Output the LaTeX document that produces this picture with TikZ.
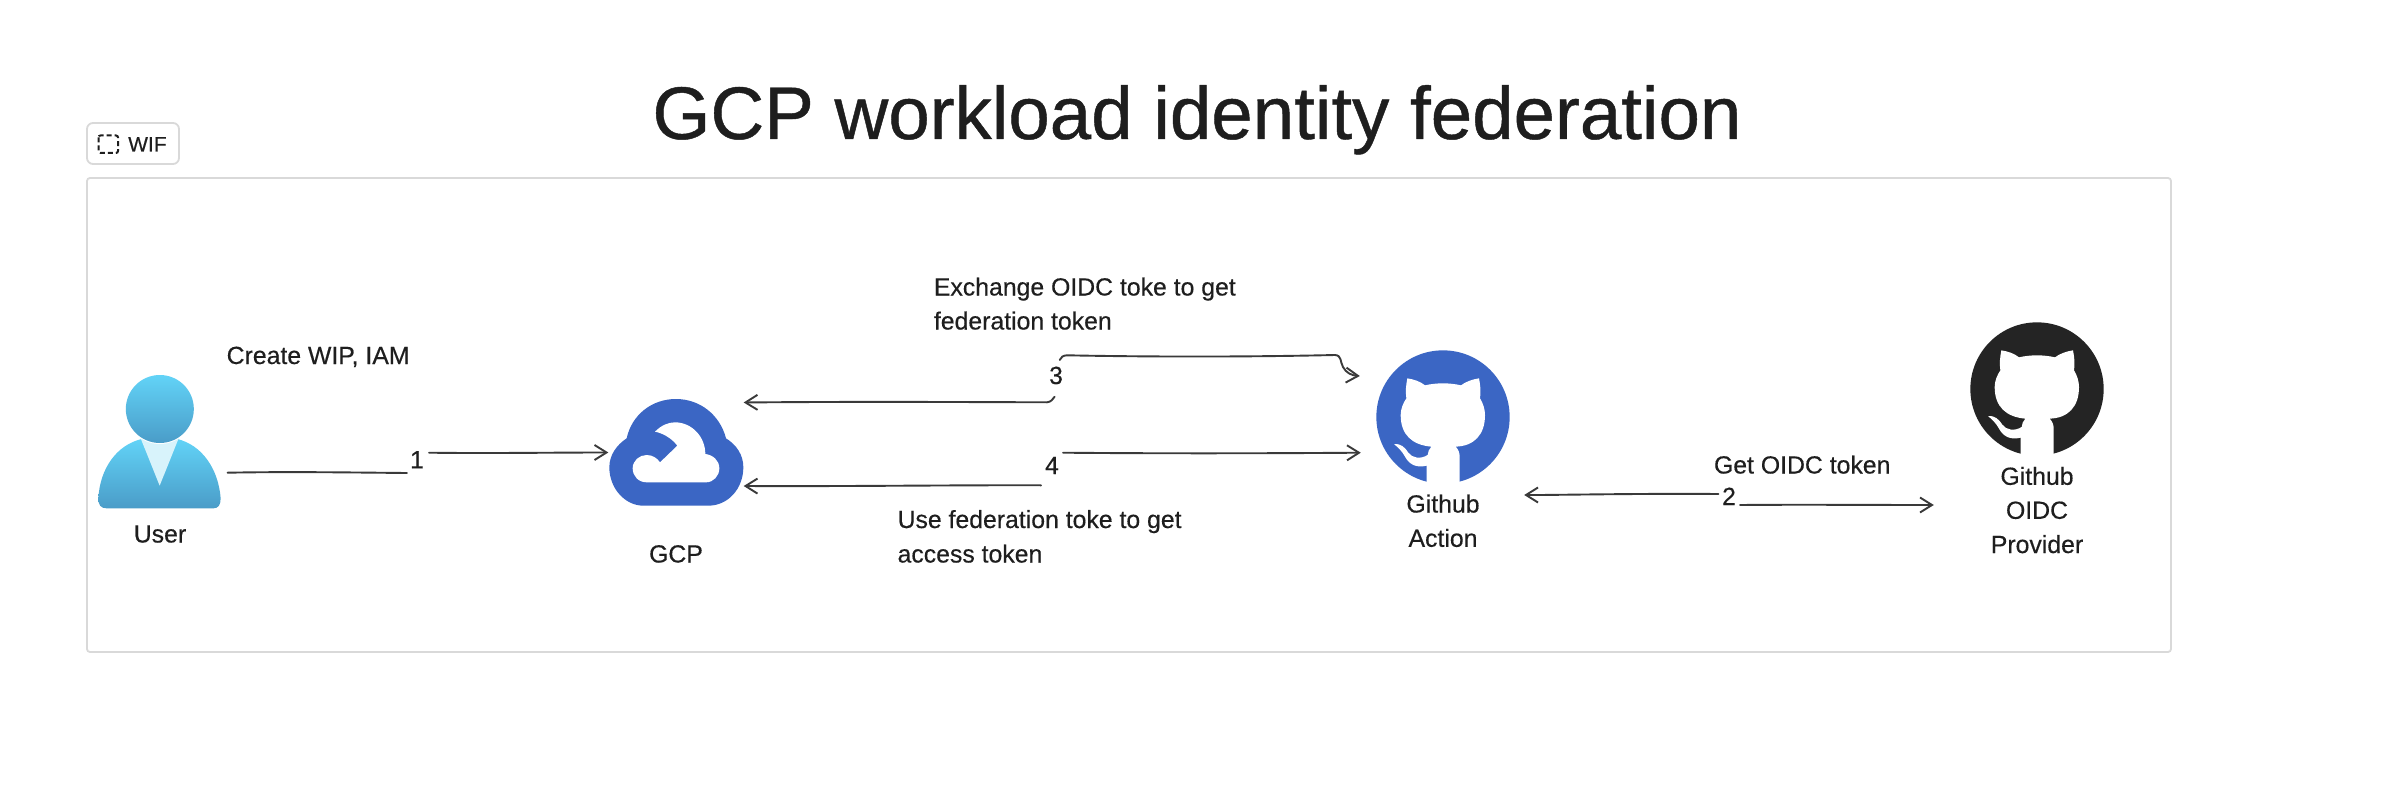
\documentclass[tikz,border=0pt]{standalone}
\usepackage{fontspec}
\setmainfont{Liberation Sans}
\newfontfamily\handfont[FakeBold=0.35]{Liberation Sans}
\newfontfamily\titlefont[FakeBold=0.6]{Liberation Sans}
\usetikzlibrary{arrows.meta}
\definecolor{gcpblue}{HTML}{3B66C4}
\definecolor{octoblack}{HTML}{242424}
\definecolor{ink}{HTML}{1E1E1E}
\definecolor{wire}{HTML}{3A3A3A}
\definecolor{framegray}{HTML}{D9D9D9}
\definecolor{usertop}{HTML}{62D3F7}
\definecolor{userbot}{HTML}{4A9CC8}
\definecolor{collar}{HTML}{D8F3FB}
\tikzset{
  x=1pt,y=-1pt,
  lbl/.style={inner sep=0pt,text=ink,font=\handfont\fontsize{24.8}{34}\selectfont},
  iconbox/.style={inner sep=0pt,draw=none},
  wireline/.style={draw=wire,line width=1.9pt,line cap=round},
  arrowed/.style={wireline,-{Straight Barb[length=12pt,width=15pt,line width=1.9pt]}},
  pics/octo/.style n args={1}{code={
    \begin{scope}[scale=1/3,shift={(-232,-231)}]
      \fill[#1] (232,231) circle [radius=200];
      \fill[white] (125,115) .. controls (145,118) and (165,125) .. (178,136)
        .. controls (212,128) and (252,128) .. (286,136)
        .. controls (300,125) and (320,118) .. (340,115)
        .. controls (344,135) and (346,155) .. (343,175)
        .. controls (352,190) and (358,207) .. (358,225)
        .. controls (358,285) and (325,318) .. (270,320)
        .. controls (278,328) and (282,338) .. (282,350)
        -- (282,445) -- (183,445) -- (183,377)
        .. controls (150,385) and (130,372) .. (118,350)
        .. controls (110,335) and (100,325) .. (85,312)
        .. controls (105,310) and (118,322) .. (128,338)
        .. controls (140,355) and (165,358) .. (186,345)
        .. controls (187,335) and (190,327) .. (197,320)
        .. controls (140,315) and (105,285) .. (105,225)
        .. controls (105,207) and (112,190) .. (122,175)
        .. controls (119,155) and (121,135) .. (125,115) -- cycle;
    \end{scope}
  }},
}
\begin{document}
\begin{tikzpicture}
\useasboundingbox (0,0) rectangle (2382,794);
\fill[white] (0,0) rectangle (2382,794);

% title
\node[anchor=base,inner sep=0pt,text=ink,font=\titlefont\fontsize{74.5}{80}\selectfont] (title) at (1197,139) {GCP workload identity federation};

% frame + chip
\node[draw=framegray,line width=1.8pt,rounded corners=3pt,minimum width=2084pt,minimum height=474pt,inner sep=0pt] (frame) at (1129,415) {};
\node[draw=framegray,line width=1.8pt,rounded corners=6pt,minimum width=92pt,minimum height=41pt,inner sep=0pt] (chip) at (133,143.5) {};
\draw[ink,line width=2pt,rounded corners=2pt,dash pattern=on 5pt off 3pt] (98.5,135.5) rectangle (118,153);
\node[lbl,anchor=base west,font=\handfont\fontsize{21}{24}\selectfont] (wiftext) at (128,151.5) {WIF};

% icon anchors
\node[iconbox,minimum width=122pt,minimum height=133pt] (user) at (160,441.5) {};
\node[iconbox,minimum width=134pt,minimum height=107pt] (gcp) at (676.5,452.5) {};
\node[iconbox,minimum width=134pt,minimum height=134pt] (action) at (1443,417) {};
\node[iconbox,minimum width=134pt,minimum height=134pt] (provider) at (2037,389) {};

% user icon
\begin{scope}[shift={(90,365)},scale=1/3]
  \shade[top color=usertop,bottom color=userbot] (25,400) .. controls (30,310) and (80,240) .. (155,222) -- (262,222) .. controls (335,240) and (385,310) .. (392,400) .. controls (392,420) and (385,430) .. (370,430) -- (50,430) .. controls (32,430) and (25,420) .. (25,400) -- cycle;
  \fill[collar] (150,215) -- (268,215) -- (209,362) -- cycle;
  \fill[white] (209.5,132) circle [radius=105];
  \shade[top color=usertop,bottom color=userbot] (209.5,132) circle [radius=102];
\end{scope}

% gcp icon
\begin{scope}[shift={(600,390)},scale=1/3]
  \fill[gcpblue] (228,27) .. controls (300,27) and (360,75) .. (378,145) .. controls (410,165) and (430,195) .. (430,232) .. controls (430,295) and (385,347) .. (325,347) -- (130,347) .. controls (75,347) and (28,295) .. (28,232) .. controls (28,195) and (50,165) .. (80,145) .. controls (95,75) and (155,27) .. (228,27) -- cycle;
  \fill[white] (165,125) .. controls (185,105) and (205,97) .. (225,97) .. controls (275,97) and (316,140) .. (316,192) .. controls (340,195) and (358,212) .. (358,235) .. controls (358,258) and (340,277) .. (318,277) -- (140,277) .. controls (115,277) and (98,258) .. (98,235) .. controls (98,212) and (118,195) .. (140,195) .. controls (158,195) and (172,205) .. (180,217) -- (232,167) .. controls (215,145) and (190,130) .. (165,125) -- cycle;
\end{scope}

% github icons
\pic at (action.center) {octo={gcpblue}};
\pic at (provider.center) {octo={octoblack}};

% labels
\node[lbl,anchor=base] (userlbl) at (160,542.5) {User};
\node[lbl,anchor=base] (gcplbl) at (676,562.5) {GCP};
\node[lbl,anchor=base] (actlbl1) at (1443,512.5) {Github};
\node[lbl,anchor=base] (actlbl2) at (1443,546.8) {Action};
\node[lbl,anchor=base] (prolbl1) at (2037,484.8) {Github};
\node[lbl,anchor=base] (prolbl2) at (2037,518.8) {OIDC};
\node[lbl,anchor=base] (prolbl3) at (2037,553) {Provider};
\node[lbl,anchor=base west] (create) at (226.5,364) {Create WIP, IAM};
\node[lbl,anchor=base west] (exch1) at (933.7,295.5) {Exchange OIDC toke to get};
\node[lbl,anchor=base west] (exch2) at (933.7,329.5) {federation token};
\node[lbl,anchor=base west] (use1) at (897.4,528) {Use federation toke to get};
\node[lbl,anchor=base west] (use2) at (897.4,562.5) {access token};
\node[lbl,anchor=base west] (get) at (1713.8,473.5) {Get OIDC token};

% step numbers
\node[lbl,anchor=base] (n1) at (417,468.3) {1};
\node[lbl,anchor=base] (n2) at (1729,505) {2};
\node[lbl,anchor=base] (n3) at (1056,384) {3};
\node[lbl,anchor=base] (n4) at (1052,474) {4};

% connectors
\draw[wireline] ([shift={(6.4,31.2)}]user.east) .. controls (290,471.5) and (350,472.5) .. ([shift={(-10,4.7)}]n1.base);
\draw[arrowed] ([shift={(12,-15.6)}]n1.base) .. controls (490,453.5) and (550,452.5) .. ([shift={(-1,0)}]gcp.west);

\draw[wireline] ([shift={(-10.6,-11)}]n2.base) .. controls (1650,493.5) and (1590,494.5) .. (1540,495);
\draw[arrowed] (1540,495) -- ([shift={(14,78)}]action.east);
\draw[arrowed] ([shift={(11,0)}]n2.base) .. controls (1800,504.5) and (1870,505) .. ([shift={(-36,116)}]provider.west);

\draw[arrowed] ([shift={(3.7,-24)}]n3.base) .. controls (1061,357) and (1063,355.5) .. (1067,355.3) .. controls (1150,357) and (1250,357) .. (1335,355) .. controls (1342,355.5) and (1340,362) .. (1343,367) .. controls (1346,373) and (1352,375.5) .. ([shift={(-16,-41)}]action.west);
\draw[arrowed] ([shift={(-1.4,12.7)}]n3.base) .. controls (1053,399) and (1051,402) .. (1047,402.3) .. controls (950,402) and (850,401.5) .. ([shift={(0,-50)}]gcp.east);

\draw[arrowed] ([shift={(11,-21.3)}]n4.base) .. controls (1150,453.5) and (1250,453.5) .. ([shift={(-15,35.7)}]action.west);
\draw[arrowed] ([shift={(-11,11.3)}]n4.base) .. controls (950,485) and (850,486.5) .. ([shift={(0,33.5)}]gcp.east);
\end{tikzpicture}
\end{document}
